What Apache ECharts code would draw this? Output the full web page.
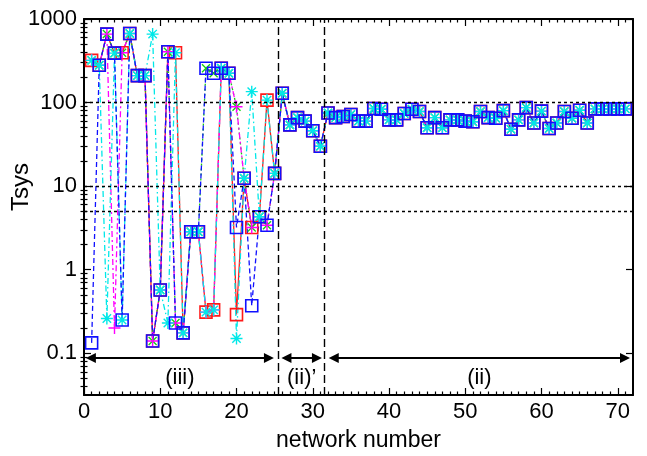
<!DOCTYPE html>
<html><head><meta charset="utf-8">
<script src="https://cdn.jsdelivr.net/npm/echarts@6/dist/echarts.min.js"></script>
<style>html,body{margin:0;padding:0;background:#fff}#c{width:647px;height:456px}</style>
</head><body><div id="c"></div>
<script>
// ---------- data ----------
const networks = [1,2,3,4,5,6,7,8,9,10,11,12,13,14,15,16,17,18,19,20,21,22,23,24,25,
  26,27,28,29,30,31,32,33,34,35,36,37,38,39,40,41,42,43,44,45,46,47,48,49,50,
  51,52,53,54,55,56,57,58,59,60,61,62,63,64,65,66,67,68,69,70,71];
// networks 1-25 (region iii), one list per method
const redIII     = [320,280,660,390,395,670,210,210,0.14,0.57,406,395,0.175,2.84,2.84,0.31,0.33,257,224,0.29,12.4,3.2,4.3,107,14.2];
const blueIII    = [0.133,280,660,390,0.25,670,210,210,0.14,0.57,406,0.23,0.175,2.84,2.84,257,224,257,224,3.2,12.4,0.37,4.3,3.4,14.2];
const cyanIII    = [320,280,0.26,390,0.25,670,210,210,660,0.57,0.23,395,0.175,2.84,2.84,0.31,0.33,257,224,0.15,12.4,135,4.3,107,14.2];
const magentaIII = [320,280,660,0.2,395,670,210,210,0.14,0.57,406,0.23,0.175,2.84,2.84,0.31,0.33,257,224,89,12.4,3.2,4.3,3.4,14.2];
const greenIII   = [320,280,660,390,395,670,210,210,0.14,0.57,406,0.23,0.175,2.84,2.84,257,224,257,224,89,12.4,3.2,4.3,3.4,14.2];
// networks 26-71 (regions ii' and ii), all methods agree
const commonII = [129,54,66,60,46,30,75,66,68,72,60,60,85,83,62,62,74,83,78,50,
  66,50,62,62,60,59,78,66,65,80,48,62,87,57,79,49,57,78,65,81,57,84,84,84,84,84];

const xTickLabels = [0,10,20,30,40,50,60,70];
const xMinorTicks = [1,2,3,4,5,6,7,8,9,11,12,13,14,15,16,17,18,19,21,22,23,24,25,26,27,28,29,
  31,32,33,34,35,36,37,38,39,41,42,43,44,45,46,47,48,49,51,52,53,54,55,56,57,58,59,
  61,62,63,64,65,66,67,68,69,71];
const yTickLabels = [0.1,1,10,100,1000];
const yMinorTicks = [0.04,0.05,0.06,0.07,0.08,0.09,0.2,0.3,0.4,0.5,0.6,0.7,0.8,0.9,
  2,3,4,5,6,7,8,9,20,30,40,50,60,70,80,90,200,300,400,500,600,700,800,900];
const refLevels = [100,10,5];
const regionBounds = [25.5,31.5];
const regionNames = ['(iii)','(ii)\u2019','(ii)'];
const regionSpans = [[0.9,24.25],[26.55,30.55],[32.75,70.95]];
const arrowLevel = 0.0877;

// ---------- chart ----------
const FONT = 'Liberation Sans, Arial, Helvetica, sans-serif';
const pairs = vals => networks.map((n,i)=>[n, vals[i]]);
const full = arr => arr.concat(commonII);

const ASTER = 'path://M5,0L5,10M0,5L10,5M1.5,1.5L8.5,8.5M8.5,1.5L1.5,8.5';
const PLUS = 'path://M5,0L5,10M0,5L10,5';
const CROSS = 'path://M0,0L10,10M10,0L0,10';

function mkSeries(name, vals, color, lineType, symbol, size, lw) {
  return {
    name, type:'line', data: pairs(full(vals)),
    xAxisIndex:0, yAxisIndex:0,
    symbol, symbolSize:size, showSymbol:true, showAllSymbol:true,
    lineStyle:{color, width:1.3, type:lineType},
    itemStyle:{color:'rgba(0,0,0,0)', borderColor:color, borderWidth:lw},
    emphasis:{disabled:true}, silent:true, animation:false
  };
}

const series = [
  mkSeries('red', redIII, '#ff1a1a', 'solid', 'rect', 12, 1.6),
  mkSeries('green', greenIII, '#10d010', [2,3], CROSS, 8, 1.3),
  mkSeries('magenta', magentaIII, '#ff00ff', [6,3,2,3], PLUS, 12, 1.4),
  mkSeries('cyan', cyanIII, '#00e8e8', [6,3,1.5,3], ASTER, 12, 1.4),
  mkSeries('blue', blueIII, '#1010ff', [5,3], 'rect', 12, 1.6)
];

const mlData = [];
refLevels.forEach(v => mlData.push({yAxis:v, lineStyle:{color:'#000', width:1.3, type:[3,3]}, label:{show:false}, symbol:'none'}));
regionBounds.forEach(v => mlData.push({xAxis:v, lineStyle:{color:'#000', width:1.4, type:[8,4]}, label:{show:false}, symbol:'none'}));
regionSpans.forEach((s,i) => {
  const lab = {show:true, formatter:regionNames[i], position:'insideMiddleBottom', distance:9,
               fontSize:22, fontFamily:FONT, color:'#000'};
  mlData.push([
    {coord:[s[0], arrowLevel], symbol:'triangle', symbolSize:10, lineStyle:{color:'#000', width:2, type:'solid'}, label:lab},
    {coord:[s[1], arrowLevel], symbol:'triangle', symbolSize:10, lineStyle:{color:'#000', width:2, type:'solid'}, label:lab}
  ]);
});
series.push({
  name:'annot', type:'line', data:[], xAxisIndex:0, yAxisIndex:0, silent:true, animation:false,
  markLine:{silent:true, animation:false, symbol:'none', label:{show:false}, data:mlData}
});

const lineBlack = {show:true, onZero:false, lineStyle:{color:'#000', width:2}};
function xAx(pos, major, withLabel) {
  return {
    type:'value', position:pos, min:0, max:72, gridIndex:0,
    axisLine: major ? lineBlack : {show:false},
    axisTick:{show:true, inside:true, length: major?7:3.5, lineStyle:{color:'#000', width:1.2},
              customValues: major ? xTickLabels : xMinorTicks},
    axisLabel: withLabel ? {show:true, customValues:xTickLabels, fontSize:22, fontFamily:FONT, color:'#000', margin:6}
                         : {show:false},
    splitLine:{show:false},
    name: withLabel ? 'network number' : '',
    nameLocation:'middle', nameGap:34, nameMoveOverlap:false,
    nameTextStyle:{fontSize:23, fontFamily:FONT, color:'#000'}
  };
}
function yAx(pos, major, withLabel) {
  return {
    type:'log', logBase:10, position:pos, min:0.0316228, max:1000, gridIndex:0,
    axisLine: major ? lineBlack : {show:false},
    axisTick:{show:true, inside:true, length: major?7:3.5, lineStyle:{color:'#000', width:1.2},
              customValues: major ? yTickLabels : yMinorTicks},
    axisLabel: withLabel ? {show:true, customValues:yTickLabels, fontSize:22, fontFamily:FONT, color:'#000', margin:7,
                            formatter: v => String(+Number(v).toPrecision(3))}
                         : {show:false},
    splitLine:{show:false},
    name: withLabel ? 'Tsys' : '',
    nameLocation:'middle', nameGap:51, nameRotate:90, nameMoveOverlap:false,
    nameTextStyle:{fontSize:24, fontFamily:FONT, color:'#000', padding:[0,0,0,40]}
  };
}

const chart = echarts.init(document.getElementById('c'), null, {renderer:'canvas'});
chart.setOption({
  backgroundColor:'#fff',
  animation:false,
  grid:{left:84, right:14, top:19, bottom:61, containLabel:false, outerBoundsMode:'none'},
  xAxis:[xAx('bottom',true,true), xAx('bottom',false,false), xAx('top',true,false), xAx('top',false,false)],
  yAxis:[yAx('left',true,true), yAx('left',false,false), yAx('right',true,false), yAx('right',false,false)],
  series
});
</script></body></html>
